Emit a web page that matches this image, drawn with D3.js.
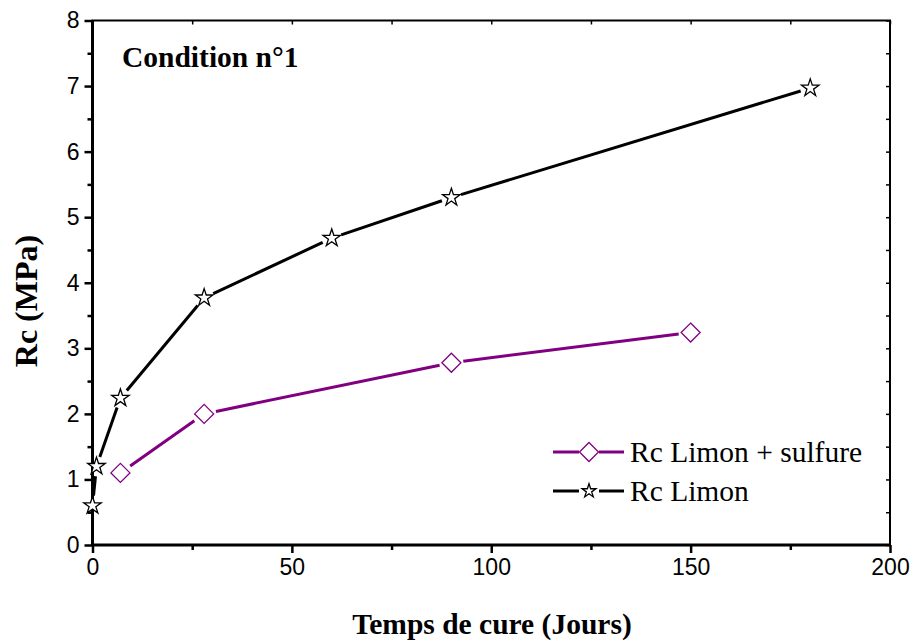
<!DOCTYPE html>
<html><head><meta charset="utf-8">
<script src="https://cdn.jsdelivr.net/npm/d3@7"></script>
<style>body{margin:0;background:#fff}</style>
</head><body>
<svg id="c" width="912" height="644"></svg>
<script>
const limonDays = [0, 1, 7, 28, 60, 90, 180];
const limonRc   = [0.6, 1.2, 2.24, 3.77, 4.68, 5.3, 6.97];
const sulfDays  = [7, 28, 90, 150];
const sulfRc    = [1.1, 2.0, 2.78, 3.24];
const xMajor = [0, 50, 100, 150, 200];
const yMajor = [0, 1, 2, 3, 4, 5, 6, 7, 8];
const seriesNames = ["Rc Limon + sulfure", "Rc Limon"];

const svg = d3.select("#c");
const L = 92.5, R = 890, T = 20.5, B = 545;
const x = d3.scaleLinear().domain([0, 200]).range([L, R]);
const y = d3.scaleLinear().domain([0, 8]).range([B, T]);
const purple = "#800080";
const serif = "'Liberation Serif', 'Times New Roman', serif";
const sans = "'Liberation Sans', Arial, sans-serif";

const xMinor = d3.range(25, 200, 50);
const yMinor = d3.range(0.5, 8, 1);

const g = svg.append("g");
g.append("rect").attr("x", L).attr("y", T).attr("width", R - L).attr("height", B - T)
  .attr("fill", "none").attr("stroke", "#000").attr("stroke-width", 2);
g.append("line").attr("x1", L).attr("x2", R).attr("y1", B).attr("y2", B).attr("stroke", "#000").attr("stroke-width", 3);
g.append("line").attr("x1", L).attr("x2", L).attr("y1", T).attr("y2", B).attr("stroke", "#000").attr("stroke-width", 3);

const bottom = d3.axisBottom(x).tickValues(xMajor).tickFormat(d3.format("d")).tickSize(8).tickPadding(6);
const ga = svg.append("g").attr("transform", `translate(0,${B})`).call(bottom);
ga.select(".domain").remove();
ga.selectAll("line").attr("stroke-width", 2.5);
ga.selectAll("text").attr("font-family", sans).attr("font-size", 23).attr("fill", "#000");
svg.append("g").attr("transform", `translate(0,${B})`).call(d3.axisBottom(x).tickValues(xMinor).tickFormat("").tickSize(5))
  .call(s => { s.select(".domain").remove(); s.selectAll("line").attr("stroke-width", 2.5); });

const left = d3.axisLeft(y).tickValues(yMajor).tickFormat(d3.format("d")).tickSize(8).tickPadding(5);
const gl = svg.append("g").attr("transform", `translate(${L},0)`).call(left);
gl.select(".domain").remove();
gl.selectAll("line").attr("stroke-width", 2.5);
gl.selectAll("text").attr("font-family", sans).attr("font-size", 23).attr("fill", "#000");
svg.append("g").attr("transform", `translate(${L},0)`).call(d3.axisLeft(y).tickValues(yMinor).tickFormat("").tickSize(5))
  .call(s => { s.select(".domain").remove(); s.selectAll("line").attr("stroke-width", 2.5); });

svg.append("g").attr("transform", `translate(0,${T})`).call(d3.axisBottom(x).tickValues(xMajor.concat(xMinor)).tickFormat("").tickSize(4))
  .call(s => { s.select(".domain").remove(); s.selectAll("line").attr("stroke-width", 1.5); });
svg.append("g").attr("transform", `translate(${R},0)`).call(d3.axisLeft(y).tickValues(yMajor.concat(yMinor)).tickFormat("").tickSize(4))
  .call(s => { s.select(".domain").remove(); s.selectAll("line").attr("stroke-width", 1.5); });

svg.append("text").attr("x", 492).attr("y", 634).attr("text-anchor", "middle")
  .attr("font-family", serif).attr("font-weight", "bold").attr("font-size", 29.5)
  .text("Temps de cure (Jours)");
svg.append("text").attr("transform", "translate(37,301) rotate(-90)").attr("text-anchor", "middle")
  .attr("font-family", serif).attr("font-weight", "bold").attr("font-size", 32)
  .text("Rc (MPa)");
svg.append("text").attr("x", 122).attr("y", 67)
  .attr("font-family", serif).attr("font-weight", "bold").attr("font-size", 29.5)
  .text("Condition n°1");

const starPath = d3.symbol().type(d3.symbolStar).size(95)();
const diamondPath = (() => { const r = 9.5; return `M0,${-r}L${r},0L0,${r}L${-r},0Z`; })();

function drawSeries(days, vals, color, gap, path, mStroke) {
  const pts = days.map((d, i) => [x(d), y(vals[i])]);
  const sg = svg.append("g");
  for (let i = 0; i < pts.length - 1; i++) {
    const [x1, y1] = pts[i], [x2, y2] = pts[i + 1];
    const dx = x2 - x1, dy = y2 - y1, len = Math.hypot(dx, dy);
    if (len <= 2 * gap) continue;
    const ux = dx / len, uy = dy / len;
    sg.append("line").attr("x1", x1 + ux * gap).attr("y1", y1 + uy * gap)
      .attr("x2", x2 - ux * gap).attr("y2", y2 - uy * gap)
      .attr("stroke", color).attr("stroke-width", 3);
  }
  sg.selectAll("path.m").data(pts).enter().append("path").attr("class", "m")
    .attr("d", path).attr("transform", d => `translate(${d[0]},${d[1]})`)
    .attr("fill", "#fff").attr("stroke", mStroke).attr("stroke-width", 1.3);
}
drawSeries(sulfDays, sulfRc, purple, 12, diamondPath, purple);
drawSeries(limonDays, limonRc, "#000", 10, starPath, "#000");

const lg = svg.append("g");
const legend = [
  {name: seriesNames[0], color: purple, path: diamondPath, y: 452},
  {name: seriesNames[1], color: "#000", path: d3.symbol().type(d3.symbolStar).size(60)(), y: 491}
];
legend.forEach(l => {
  lg.append("line").attr("x1", 553).attr("x2", 579).attr("y1", l.y).attr("y2", l.y).attr("stroke", l.color).attr("stroke-width", 3);
  lg.append("line").attr("x1", 599).attr("x2", 624).attr("y1", l.y).attr("y2", l.y).attr("stroke", l.color).attr("stroke-width", 3);
  lg.append("path").attr("d", l.path).attr("transform", `translate(589,${l.y})`).attr("fill", "#fff").attr("stroke", l.color).attr("stroke-width", 1.3);
  lg.append("text").attr("x", 630).attr("y", l.y + 10).attr("font-family", serif).attr("font-size", 29.5).text(l.name);
});
</script>
</body></html>
